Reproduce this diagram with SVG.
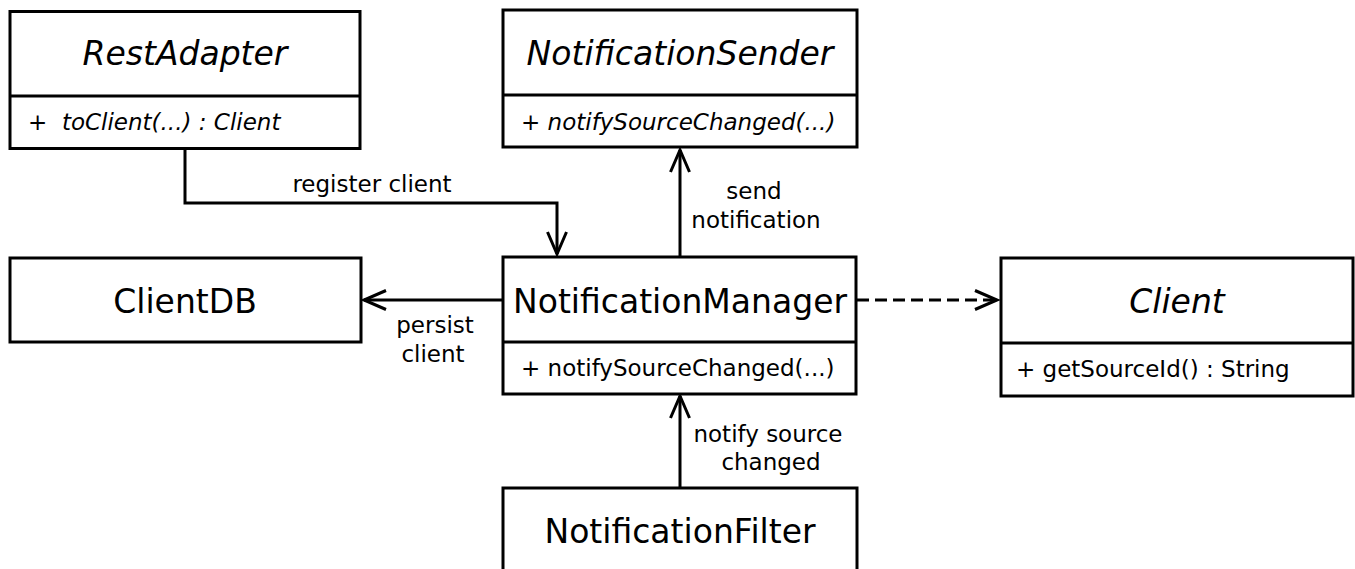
<svg xmlns="http://www.w3.org/2000/svg" width="1355" height="569" viewBox="0 0 1355 569">
  <style>
    .box { fill: #ffffff; stroke: #000000; stroke-width: 3; }
    .div { stroke: #000000; stroke-width: 3; }
    .title { font-family: "DejaVu Sans", "Liberation Sans", sans-serif; font-size: 33px; fill: #000000; text-anchor: middle; }
    .member { font-family: "DejaVu Sans", "Liberation Sans", sans-serif; font-size: 23px; fill: #000000; }
    .label { font-family: "DejaVu Sans", "Liberation Sans", sans-serif; font-size: 23px; fill: #000000; text-anchor: middle; }
    .abstract { font-style: italic; }
    .edge { fill: none; stroke: #000000; stroke-width: 3; }
    .dashed { stroke-dasharray: 12 6; }
  </style>
  <defs>
    <marker id="open-arrow" markerUnits="userSpaceOnUse" markerWidth="40" markerHeight="40" viewBox="-30 -20 40 40" refX="0" refY="0" orient="auto" overflow="visible">
      <path d="M-22,-9.5 L0,0 L-22,9.5" fill="none" stroke="#000000" stroke-width="3"/>
    </marker>
  </defs>

  <rect width="1355" height="569" fill="#ffffff"/>

  <!-- connectors -->
  <g id="connectors">
    <path class="edge" d="M185,149 V203 H557 V254" marker-end="url(#open-arrow)"/>
    <path class="edge" d="M680,257 V150" marker-end="url(#open-arrow)"/>
    <path class="edge" d="M503,300 H364" marker-end="url(#open-arrow)"/>
    <path class="edge dashed" d="M857,300 H997" marker-end="url(#open-arrow)"/>
    <path class="edge" d="M680,488 V396" marker-end="url(#open-arrow)"/>
    <text class="label" x="372" y="192">register client</text>
    <text class="label" x="754" y="199">send</text>
    <text class="label" x="756" y="228">notification</text>
    <text class="label" x="435" y="333">persist</text>
    <text class="label" x="433" y="362">client</text>
    <text class="label" x="768" y="442">notify source</text>
    <text class="label" x="771" y="470">changed</text>
  </g>

  <!-- RestAdapter -->
  <g id="rest-adapter">
    <rect class="box" x="10" y="11.5" width="350" height="137"/>
    <line class="div" x1="10" y1="96" x2="360" y2="96"/>
    <text class="title abstract" x="185" y="65">RestAdapter</text>
    <text class="member abstract" x="28" y="130" xml:space="preserve">+  toClient(...) : Client</text>
  </g>

  <!-- NotificationSender -->
  <g id="notification-sender">
    <rect class="box" x="503" y="10" width="354" height="137"/>
    <line class="div" x1="503" y1="95" x2="857" y2="95"/>
    <text class="title abstract" x="680" y="65">NotificationSender</text>
    <text class="member abstract" x="521" y="130">+ notifySourceChanged(...)</text>
  </g>

  <!-- ClientDB -->
  <g id="client-db">
    <rect class="box" x="10" y="258" width="351" height="84"/>
    <text class="title" x="185" y="313">ClientDB</text>
  </g>

  <!-- NotificationManager -->
  <g id="notification-manager">
    <rect class="box" x="503" y="257" width="353" height="137"/>
    <line class="div" x1="503" y1="342" x2="856" y2="342"/>
    <text class="title" x="680" y="313">NotificationManager</text>
    <text class="member" x="521" y="376">+ notifySourceChanged(...)</text>
  </g>

  <!-- Client -->
  <g id="client">
    <rect class="box" x="1001" y="258" width="352" height="138"/>
    <line class="div" x1="1001" y1="343" x2="1353" y2="343"/>
    <text class="title abstract" x="1177" y="313">Client</text>
    <text class="member" x="1016" y="377">+ getSourceId() : String</text>
  </g>

  <!-- NotificationFilter -->
  <g id="notification-filter">
    <rect class="box" x="503" y="488" width="354" height="100"/>
    <text class="title" x="680" y="543">NotificationFilter</text>
  </g>
</svg>
